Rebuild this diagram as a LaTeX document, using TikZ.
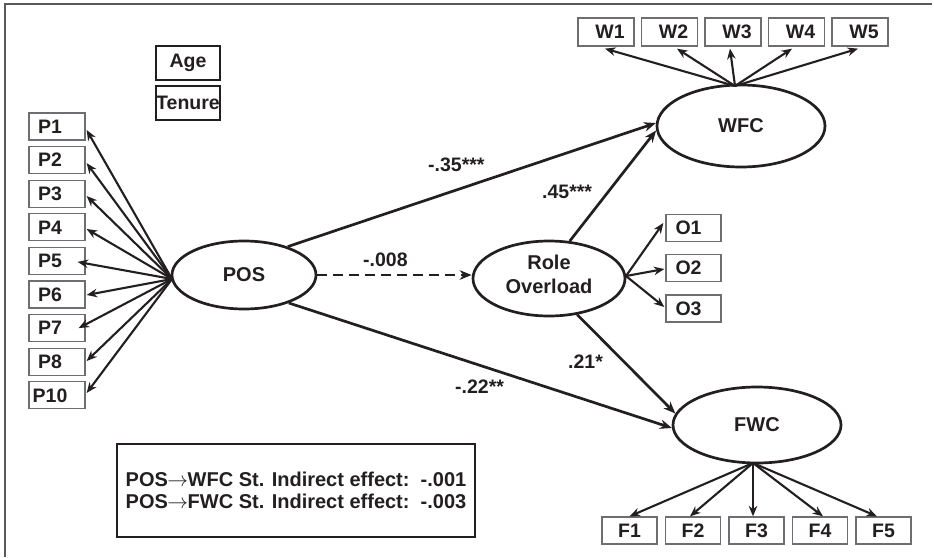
\documentclass[tikz,border=0pt]{standalone}
\usepackage{fontspec}
\setmainfont{Liberation Sans}
\usetikzlibrary{arrows.meta,shapes.geometric}
\definecolor{txt}{HTML}{231F20}
\definecolor{boxgray}{HTML}{6D6E71}
\definecolor{framegray}{HTML}{58595B}
\begin{document}
\begin{tikzpicture}[x=1pt,y=-1pt,
  every node/.style={text=txt, font=\fontsize{19.5}{22}\selectfont\bfseries},
  ind/.style={draw=boxgray, line width=1.3pt, minimum width=56pt, minimum height=27pt, inner sep=0pt},
  ctrl/.style={draw=txt, line width=1.8pt, minimum width=64pt, minimum height=34pt, inner sep=0pt},
  lat/.style={ellipse, draw=txt, line width=2.7pt, inner sep=0pt, align=center,
              font=\fontsize{20}{24}\selectfont\bfseries},
  lattext/.style={inner sep=0pt, align=center, font=\fontsize{20}{24}\selectfont\bfseries},
  arr/.style={draw=txt, line width=2.1pt, -{Stealth[length=10.5pt,width=8.5pt]}},
  strpath/.style={draw=txt, line width=2.7pt, -{Stealth[length=12pt,width=9.5pt]}},
  coef/.style={anchor=west, inner sep=0pt},
]
\useasboundingbox (0,0) rectangle (934,557);
% frame
\draw[framegray, line width=1.8pt] (5,557) -- (5,4) -- (932,4);

% latent variables
\node[lat, minimum width=144pt, minimum height=68pt] (pos) at (244,275) {POS};
\node[lat, minimum width=152pt, minimum height=75pt] (role) at (549,278.5) {};
\node[lattext] (roletext) at (549,274.5) {Role\\Overload};
\node[lat, minimum width=168pt, minimum height=82pt] (wfc) at (741,126) {WFC};
\node[lat, minimum width=168pt, minimum height=76pt] (fwc) at (757,425) {FWC};

% controls
\node[ctrl] (age) at (188,63) {Age};
\node[ctrl] (tenure) at (188,103) {Tenure};

% P indicators
\foreach \n/\lab [count=\i from 0] in {p1/P1,p2/P2,p3/P3,p4/P4,p5/P5,p6/P6,p7/P7,p8/P8,p10/P10}
  \node[ind] (\n) at (57,{126.5+33.6*\i}) {\hspace*{-14pt}\lab};

% W indicators
\foreach \n/\lab [count=\i from 0] in {w1/W1,w2/W2,w3/W3,w4/W4,w5/W5}
  \node[ind, minimum height=28pt] (\n) at ({606+63.5*\i},32) {\hspace*{8pt}\lab};

% F indicators
\foreach \n/\lab [count=\i from 0] in {f1/F1,f2/F2,f3/F3,f4/F4,f5/F5}
  \node[ind, minimum width=55pt] (\n) at ({629.5+63.5*\i},530.5) {\lab};

% O indicators
\node[ind, minimum width=55pt] (o1) at (693.5,228) {\hspace*{-10pt}O1};
\node[ind, minimum width=55pt] (o2) at (693.5,268) {\hspace*{-10pt}O2};
\node[ind, minimum width=55pt] (o3) at (693.5,308.5) {\hspace*{-10pt}O3};

% indirect-effect box
\node[draw=txt, line width=1.8pt, minimum width=358pt, minimum height=93pt, align=left,
      font=\fontsize{20}{22}\selectfont\bfseries] (effects) at (296,490.5)
  {POS\kern-0.5pt$\rightarrow$\kern-0.5pt WFC St. Indirect effect:\ \ -.001\\
   POS\kern-0.5pt$\rightarrow$\kern-0.5pt FWC St. Indirect effect:\ \ -.003};

% POS -> P arrows
\coordinate (posL) at (172,279);
\foreach \n/\dx/\dy in {p1/1/-3.5,p2/1/-3,p3/1/-2.3,p4/1/-1.7,p5/-8/-1,p6/1/-0.5,p7/-7/0,p8/1/0.7,p10/1/2.3}
  \draw[arr] (posL) -- ([xshift=\dx pt, yshift=\dy pt]\n.east);

% WFC -> W arrows
\coordinate (wfcT) at (735,86);
\foreach \n/\dx in {w1/-1,w2/7.5,w3/-3,w4/-4.5,w5/-2}
  \draw[arr] (wfcT) -- ([xshift=\dx pt, yshift=-2pt]\n.south);

% FWC -> F arrows
\coordinate (fwcB) at (753,463);
\foreach \n/\dx in {f1/0,f2/-3,f3/-3.5,f4/3,f5/-6.5}
  \draw[arr] (fwcB) -- ([xshift=\dx pt]\n.north);

% Role -> O arrows
\coordinate (roleR) at (626,276);
\draw[arr] (roleR) -- ([xshift=-2pt, yshift=5pt]o1.west);
\draw[arr] (roleR) -- ([xshift=-1pt, yshift=-1pt]o2.west);
\draw[arr] (roleR) -- ([xshift=-1pt, yshift=1.5pt]o3.west);

% structural paths
\draw[strpath] (pos.33) -- (wfc.178);
\draw[strpath] (pos.-32) -- (fwc.182);
\draw[strpath] (role.61) -- (wfc.183);
\draw[strpath] (role.-52) -- (fwc.172);
\draw[strpath, dash pattern=on 10pt off 6pt] (pos.east) -- (pos.east -| role.west);

% coefficients
\node[coef] (c35) at (428,165) {-.35***};
\node[coef] (c008) at (363,260) {-.008};
\node[coef] (c45) at (542,192) {.45***};
\node[coef] (c21) at (568,362) {.21*};
\node[coef] (c22) at (455,387) {-.22**};
\end{tikzpicture}
\end{document}
